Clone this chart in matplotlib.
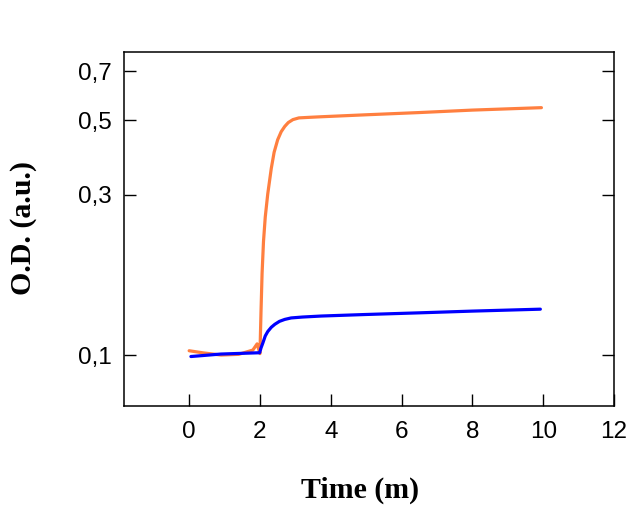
import numpy as np
import matplotlib.pyplot as plt
from matplotlib.ticker import FixedLocator, FixedFormatter, NullLocator

# values (time in minutes, O.D. in a.u.)
t_orange = [0.0, 0.4, 0.9, 1.4, 1.8, 1.92, 2.0, 2.03, 2.06, 2.1, 2.15, 2.22, 2.32, 2.4, 2.5,
            2.6, 2.7, 2.8, 2.93, 3.1, 3.4, 3.73, 5.0, 6.5, 8.0, 9.95]
od_orange = [0.103, 0.1015, 0.100, 0.1005, 0.1035, 0.108, 0.101, 0.135, 0.175, 0.218, 0.258,
             0.302, 0.360, 0.402, 0.438, 0.463, 0.480, 0.493, 0.503, 0.509, 0.511, 0.513,
             0.520, 0.528, 0.537, 0.546]

t_blue = [0.05, 0.9, 1.99, 2.03, 2.08, 2.15, 2.22, 2.32, 2.42, 2.55, 2.7, 2.88, 3.2, 3.73,
          5.0, 6.5, 8.0, 9.92]
od_blue = [0.099, 0.1007, 0.1016, 0.105, 0.1085, 0.114, 0.1175, 0.121, 0.1235, 0.126, 0.1277,
           0.129, 0.1298, 0.1307, 0.1321, 0.1336, 0.1352, 0.137]

y_ticks = [0.1, 0.3, 0.5, 0.7]
y_tick_labels = ["0,1", "0,3", "0,5", "0,7"]
x_ticks = [0, 2, 4, 6, 8, 10, 12]

fig = plt.figure(figsize=(6.42, 5.09), dpi=100)
ax = fig.add_axes([124 / 642, 1 - 406 / 509, 490 / 642, 354 / 509])

ax.plot(t_orange, od_orange, color="#ff7f3f", lw=2.3, solid_capstyle="round",
        solid_joinstyle="round")
ax.plot(t_blue, od_blue, color="#0000ff", lw=2.3, solid_capstyle="round",
        solid_joinstyle="round")

ax.set_yscale("log")
ax.set_ylim(0.0705, 0.80)
ax.set_xlim(-1.84, 12)

ax.yaxis.set_major_locator(FixedLocator(y_ticks))
ax.yaxis.set_major_formatter(FixedFormatter(y_tick_labels))
ax.yaxis.set_minor_locator(NullLocator())
ax.set_xticks(x_ticks)

for lab in ax.get_xticklabels() + ax.get_yticklabels():
    lab.set_fontfamily("Liberation Sans")
    lab.set_fontsize(17.5)

ax.tick_params(axis="both", direction="in", length=8.5, width=1.0, color="black")
ax.tick_params(axis="x", pad=10.5)
ax.tick_params(axis="y", pad=9, right=True)

for sp in ax.spines.values():
    sp.set_linewidth(1.1)
    sp.set_color("black")

label_font = dict(family="Liberation Serif", weight="bold", size=21.5)
fig.text(360 / 642, 1 - 490 / 509, "Time (m)", ha="center", va="center", **label_font)
fig.text(24 / 642, 1 - 228 / 509, "O.D. (a.u.)", ha="center", va="center",
         rotation=90, **label_font)

fig.savefig("out.png", dpi=100)
